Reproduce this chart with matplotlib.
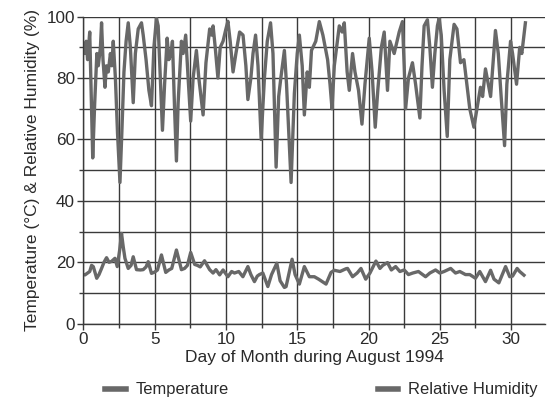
import matplotlib
matplotlib.use("Agg")
import matplotlib.pyplot as plt
from matplotlib.ticker import MultipleLocator
from matplotlib.lines import Line2D

# Relative humidity (%) – day of month, value
rh_day = [0.0, 0.1, 0.2, 0.3, 0.45, 0.55, 0.66, 0.8, 0.95, 1.05, 1.2, 1.28, 1.38, 1.52, 1.62, 1.75, 1.9, 2.0,
          2.1, 2.25, 2.4, 2.57, 2.7, 2.85, 3.0, 3.15, 3.3, 3.5, 3.65, 3.85, 4.08, 4.2, 4.4, 4.6, 4.78, 4.95,
          5.13, 5.25, 5.4, 5.55, 5.7, 5.88, 6.0, 6.15, 6.25, 6.4, 6.53, 6.65, 6.88, 7.0, 7.18, 7.35, 7.53,
          7.7, 7.93, 8.1, 8.4, 8.6, 8.86, 9.0, 9.1, 9.25, 9.44, 9.6, 9.8, 10.0, 10.14, 10.3, 10.5, 10.7,
          10.96, 11.2, 11.4, 11.54, 11.75, 11.9, 12.08, 12.25, 12.47, 12.7, 12.9, 13.13, 13.3, 13.52, 13.7,
          13.85, 14.1, 14.25, 14.57, 14.8, 15.0, 15.15, 15.35, 15.5, 15.7, 15.85, 16.0, 16.3, 16.55, 16.8,
          17.13, 17.3, 17.44, 17.6, 17.95, 18.15, 18.3, 18.5, 18.65, 18.88, 19.05, 19.3, 19.54, 19.75,
          20.05, 20.25, 20.47, 20.65, 20.9, 21.1, 21.33, 21.5, 21.8, 22.0, 22.15, 22.38, 22.5, 22.6, 22.8,
          23.08, 23.3, 23.6, 23.75, 23.9, 24.13, 24.3, 24.48, 24.65, 24.83, 24.95, 25.1, 25.3, 25.52, 25.7,
          26.0, 26.2, 26.45, 26.69, 26.92, 27.1, 27.39, 27.6, 27.85, 28.0, 28.2, 28.4, 28.56, 28.75, 28.9,
          29.1, 29.3, 29.54, 29.7, 29.96, 30.1, 30.38, 30.6, 30.75, 31.0]
rh_val = [91, 88, 92, 86, 95, 75, 54, 72, 88, 84, 90, 98, 86, 77, 84, 82, 88, 84,
          92, 80, 62, 46, 62, 82, 92, 98, 90, 72, 88, 96, 98, 94, 86, 76, 71, 90,
          99.5, 97, 80, 63, 78, 93, 86, 88, 92, 70, 53, 72, 92, 88, 94, 80, 66,
          80, 89, 80, 68, 85, 96, 94, 97, 90, 80, 90, 92, 96, 98.5, 92, 82, 88,
          95, 94, 84, 73, 80, 88, 94, 84, 60, 80, 92, 98, 88, 51, 74,
          80, 89, 78, 46, 75, 88, 94, 84, 68, 82, 77, 89, 92, 98.4, 94,
          86, 78, 70, 84, 97, 95, 98, 82, 76, 88, 82, 76, 65, 78,
          93, 82, 64, 76, 90, 95, 76, 92, 88, 92, 95, 98.4, 84, 70, 80,
          85, 78, 67, 84, 97, 99, 90, 77, 88, 97, 99.5, 94, 76, 61, 86,
          97.5, 96, 85, 86, 77, 70, 64, 70, 77, 74, 83, 78, 74, 86, 95.5,
          88, 74, 58, 78, 92, 88, 78, 90, 88, 98]

# Temperature (°C) – day of month, value
t_day = [0.0, 0.12, 0.3, 0.45, 0.58, 0.7, 0.94, 1.1, 1.28, 1.45, 1.63, 1.8, 1.98, 2.22, 2.38, 2.55, 2.68,
         2.8, 2.92, 3.15, 3.35, 3.5, 3.73, 4.0, 4.2, 4.4, 4.55, 4.78, 5.0, 5.2, 5.48, 5.78, 6.0, 6.2, 6.53,
         6.88, 7.1, 7.3, 7.53, 7.81, 8.0, 8.2, 8.5, 8.86, 9.1, 9.3, 9.56, 9.8, 10.14, 10.4, 10.6, 10.9,
         11.19, 11.54, 11.75, 12.0, 12.2, 12.35, 12.59, 12.94, 13.2, 13.57, 13.8, 14.1, 14.22, 14.64, 14.85,
         15.15, 15.5, 15.85, 16.2, 16.5, 17.02, 17.37, 17.6, 18.0, 18.42, 18.53, 18.88, 19.2, 19.47, 19.8,
         20.1, 20.52, 20.8, 21.0, 21.33, 21.6, 21.9, 22.2, 22.5, 22.8, 23.1, 23.5, 24.0, 24.3, 24.7, 25.0,
         25.3, 25.76, 26.1, 26.4, 26.8, 27.1, 27.5, 27.8, 28.2, 28.56, 28.8, 29.14, 29.61, 29.9, 30.1,
         30.42, 30.6, 30.9]
t_val = [16, 15.9, 16.5, 17, 19, 18.6, 14.8, 16, 18, 20, 21.5, 20, 20.3, 21.3, 18.6, 24, 29.4,
         25, 21.3, 18, 19, 21.8, 17.6, 17.5, 17.6, 18.5, 20.2, 16.4, 16.8, 17.5, 22.4, 16.7, 17.5, 18, 24,
         17.6, 18, 19, 23.2, 19.3, 19, 18.5, 20.5, 17.6, 16.5, 17.6, 15.9, 17.5, 15.3, 17, 16.5, 17,
         15.3, 18.6, 16, 13.7, 15.5, 16, 16.5, 12.1, 16, 19.7, 14, 11.8, 12.1, 21, 16,
         12.9, 18.6, 15.3, 15.3, 14.5, 12.9, 16.7, 17.4, 17, 17.9, 18, 15.3, 16.5, 18, 14.5,
         16.5, 20.4, 18, 19, 19.9, 17.5, 18.6, 17, 17.5, 16, 16.5, 17, 15.3, 16.5, 17.5, 16.5,
         17, 18, 16.5, 17, 16, 16, 14.8, 17, 13.7, 17.4, 14.5, 13.3, 18.6, 15.3, 15.5,
         18, 17, 15.8]

series_labels = ["Temperature", "Relative Humidity"]
x_ticks = [0, 5, 10, 15, 20, 25, 30]
y_ticks = [0, 20, 40, 60, 80, 100]

plt.rcParams['font.family'] = ['Liberation Sans', 'DejaVu Sans']

line_color = '#686868'
grid_color = '#3a3a3a'
text_color = '#2a2a2a'

fig = plt.figure(figsize=(5.47, 3.98), dpi=100)
ax = fig.add_axes([0.1523, 0.1867, 0.8447, 0.7714])

ax.plot(t_day, t_val, color=line_color, lw=2.4, solid_joinstyle='round')
ax.plot(rh_day, rh_val, color=line_color, lw=2.4, solid_joinstyle='round')

ax.set_xlim(0, 32.4)
ax.set_ylim(0, 100)
ax.set_xticks(x_ticks)
ax.set_yticks(y_ticks)
ax.xaxis.set_minor_locator(MultipleLocator(2.5))
ax.yaxis.set_minor_locator(MultipleLocator(10))
ax.grid(True, which='both', color=grid_color, lw=1.0)
ax.set_axisbelow(True)
ax.tick_params(which='both', direction='out', color=grid_color, length=4, width=1.0,
               labelsize=12.3, pad=2, labelcolor=text_color)
ax.tick_params(which='minor', length=3)
for s in ['top', 'right']:
    ax.spines[s].set_visible(False)
for s in ['left', 'bottom']:
    ax.spines[s].set_color(grid_color)
    ax.spines[s].set_linewidth(1.0)

ax.set_xlabel("Day of Month during August 1994", fontsize=12.5, labelpad=2, color=text_color)
ax.set_ylabel("Temperature (°C) & Relative Humidity (%)", fontsize=12.5, labelpad=5, color=text_color)

handles = [Line2D([], [], color=line_color, lw=4), Line2D([], [], color=line_color, lw=4)]
leg = fig.legend(handles, series_labels, loc='lower left', bbox_to_anchor=(0.165, -0.036), ncol=2,
                 frameon=False, fontsize=11.9, handlelength=1.25, handletextpad=0.6, columnspacing=9.0)
for t in leg.get_texts():
    t.set_color(text_color)

fig.savefig("out.png", dpi=100)
